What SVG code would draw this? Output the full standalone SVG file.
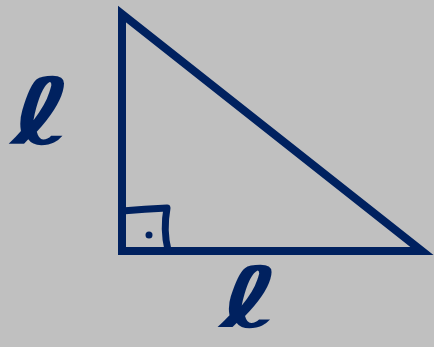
<svg xmlns="http://www.w3.org/2000/svg" width="434" height="347" viewBox="0 0 434 347">
<style>
.ln{fill:none;stroke:#00215f;stroke-width:8;stroke-linejoin:miter;stroke-miterlimit:10}
.mk{fill:none;stroke:#00215f;stroke-width:7;stroke-linecap:round;stroke-linejoin:round}
.lbl{font-family:"DejaVu Sans",sans-serif;font-weight:bold;fill:#00215f;text-anchor:middle}
</style>
<rect width="434" height="347" fill="#c0c0c0"/>
<g id="triangle">
<polygon class="ln" points="122,14 122,251 422,251"/>
</g>
<g id="right-angle">
<path class="mk" d="M122,211 Q145,209 167,208 Q163,230 168,250"/>
<circle cx="149" cy="235" r="3.5" fill="#00215f"/>
</g>
<g id="label-left">
<text class="lbl" x="42" y="144" font-size="92" transform="translate(42,0) scale(1.45,1) translate(-42,0)">ℓ</text>
</g>
<g id="label-bottom">
<text class="lbl" x="250" y="327" font-size="84" transform="translate(250,0) scale(1.55,1) translate(-250,0)">ℓ</text>
</g>
</svg>
